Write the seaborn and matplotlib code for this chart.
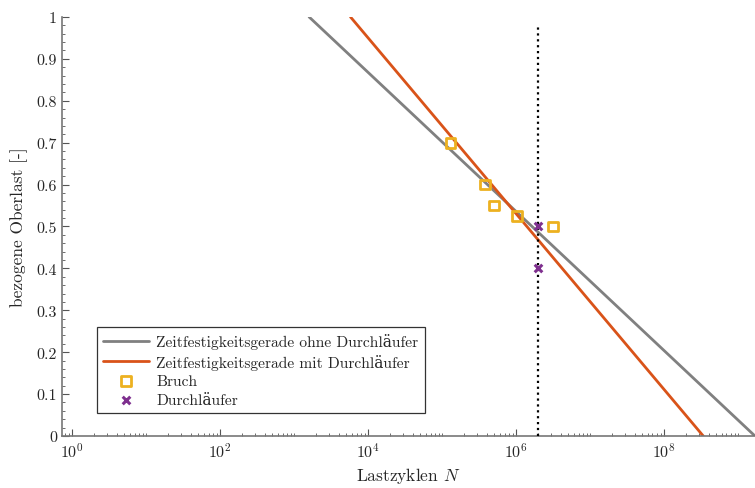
import numpy as np
import pandas as pd
import matplotlib
matplotlib.use("Agg")
import matplotlib.pyplot as plt
import seaborn as sns
from matplotlib.ticker import LogLocator, FixedLocator, MultipleLocator, AutoMinorLocator, NullFormatter

# Zeitfestigkeitsgeraden (Endpunkte)
n_ohne = [1.6e3, 1.7e9]
s_ohne = [1.0, 0.0]
n_mit = [5.8e3, 3.4e8]
s_mit = [1.0, 0.0]

# Versuchspunkte
n_bruch = [1.3e5, 3.8e5, 5.0e5, 1.02e6, 3.2e6]
s_bruch = [0.70, 0.60, 0.55, 0.525, 0.50]
n_durch = [2.0e6, 2.0e6]
s_durch = [0.50, 0.40]

n_grenze = 2.0e6

x_ticks = [1e0, 1e2, 1e4, 1e6, 1e8]
x_labels = [r"$10^{0}$", r"$10^{2}$", r"$10^{4}$", r"$10^{6}$", r"$10^{8}$"]

sns.set_style("ticks")
plt.rcParams["font.family"] = ["cmr10", "DejaVu Serif"]
plt.rcParams["mathtext.fontset"] = "cm"
plt.rcParams["axes.formatter.use_mathtext"] = True
plt.rcParams["axes.unicode_minus"] = False

fig = plt.figure(figsize=(7.55, 4.89), dpi=100)
ax = fig.add_axes([0.082, 0.1063, 0.918, 0.857])

df_ohne = pd.DataFrame({"N": n_ohne, "S": s_ohne})
df_mit = pd.DataFrame({"N": n_mit, "S": s_mit})
sns.lineplot(data=df_ohne, x="N", y="S", ax=ax, color="#808080", linewidth=2,
             label="Zeitfestigkeitsgerade ohne Durchläufer")
sns.lineplot(data=df_mit, x="N", y="S", ax=ax, color="#D95319", linewidth=2,
             label="Zeitfestigkeitsgerade mit Durchläufer")
sns.scatterplot(x=n_bruch, y=s_bruch, ax=ax, marker="s", s=50, facecolor="none",
                edgecolor="#EDB120", linewidth=2, label="Bruch", zorder=5)
sns.scatterplot(x=n_durch, y=s_durch, ax=ax, marker="x", s=30, color="#7E2F8E",
                linewidth=2.2, label="Durchläufer", zorder=5)
ax.plot([n_grenze, n_grenze], [0, 0.98], color="black", linestyle=":", linewidth=1.6, zorder=4)

ax.set_xscale("log")
ax.set_xlim(0.73, 1.7e9)
ax.set_ylim(0, 1)
ax.xaxis.set_major_locator(FixedLocator(x_ticks))
ax.set_xticklabels(x_labels)
ax.xaxis.set_minor_locator(LogLocator(base=10, subs=np.arange(1, 10), numticks=30))
ax.xaxis.set_minor_formatter(NullFormatter())
ax.yaxis.set_major_locator(MultipleLocator(0.1))
ax.yaxis.set_minor_locator(AutoMinorLocator(5))
ax.set_yticks(np.round(np.arange(0, 1.01, 0.1), 1))
ax.set_yticklabels(["0", "0.1", "0.2", "0.3", "0.4", "0.5", "0.6", "0.7", "0.8", "0.9", "1"])

ax.tick_params(which="both", direction="in", colors="#262626", labelsize=11.5)
ax.tick_params(which="major", length=5, width=0.8, color="#555555")
ax.tick_params(which="minor", length=2.5, width=0.6, color="#555555")
for side in ["top", "right"]:
    ax.spines[side].set_visible(False)
for side in ["left", "bottom"]:
    ax.spines[side].set_color("#777777")
    ax.spines[side].set_linewidth(1.2)

ax.set_xlabel(r"Lastzyklen $N$", fontsize=12.5, color="#262626", labelpad=4)
ax.set_ylabel("bezogene Oberlast [-]", fontsize=12.5, color="#262626", labelpad=6)

leg = ax.legend(loc="lower left", bbox_to_anchor=(0.05, 0.055), fontsize=11.2,
                frameon=True, fancybox=False, edgecolor="#333333", framealpha=1,
                borderpad=0.4, labelspacing=0.3, handlelength=3.0, handletextpad=0.45,
                borderaxespad=0)
leg.get_frame().set_linewidth(0.9)

fig.savefig("out.png", dpi=100)
